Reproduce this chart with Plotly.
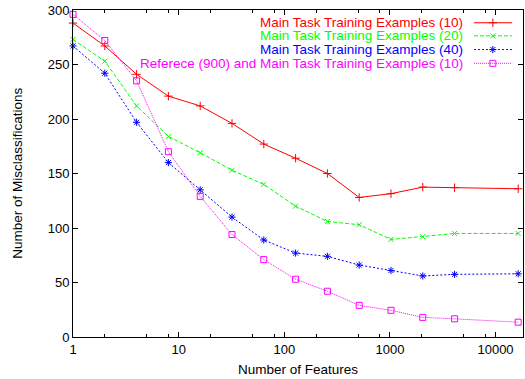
import math
import plotly.graph_objects as go

features = [1, 2, 4, 8, 16, 32, 64, 128, 256, 512, 1024, 2048, 4096, 16384]
main10 = [288, 267, 241, 221, 212, 196, 177, 164, 150, 128, 131.5, 137.5, 137, 136]
main20 = [273, 253, 212, 184, 169, 153, 140, 120, 106, 103, 89.5, 92, 95, 95]
main40 = [267, 242, 197, 160, 135, 110, 89, 77, 74, 66, 61, 56, 57.5, 58]
ref900_main10 = [296, 272, 235, 170, 129, 94, 71, 53, 42, 29, 24.5, 18, 16.7, 13.6]

names = [
    "Main Task Training Examples (10)",
    "Main Task Training Examples (20)",
    "Main Task Training Examples (40)",
    "Referece (900) and Main Task Training Examples (10)",
]
colors = ["#ff0000", "#00ff00", "#0000ff", "#ff00ff"]
dashes = ["solid", "4px,2px", "2px,2px", "1px,1px"]
symbols = ["cross-thin-open", "x-thin-open", "asterisk-open", "square-open"]
msizes = [6, 5, 6, 6]
series = [main10, main20, main40, ref900_main10]

y_ticks = [0, 50, 100, 150, 200, 250, 300]
x_ticks = [1, 10, 100, 1000, 10000]
x_tick_labels = ["1", "10", "100", "1000", "10000"]
minor_vals = [m * d for d in [1, 10, 100, 1000, 10000] for m in (2, 5, 8)]

FONT = "Liberation Sans, Arial, Helvetica, sans-serif"
FS = 13.5

fig = go.Figure()
for vals, name, c, d, s, ms in zip(series, names, colors, dashes, symbols, msizes):
    fig.add_trace(go.Scatter(
        x=features, y=vals, mode="lines+markers", name=name,
        line=dict(color=c, width=1, dash=d),
        marker=dict(symbol=s, size=ms, color=c, line=dict(color=c, width=1)),
        showlegend=False, cliponaxis=False,
    ))

# manual gnuplot-style legend (text right-aligned, sample to the right)
row_y = [0.961, 0.921, 0.879, 0.837]
for i, (name, c, d, s, ms) in enumerate(zip(names, colors, dashes, symbols, msizes)):
    fig.add_annotation(
        x=0.871, y=row_y[i], xref="paper", yref="paper", text=name,
        showarrow=False, xanchor="right", yanchor="middle",
        font=dict(color=c, size=FS, family=FONT),
    )
    fig.add_trace(go.Scatter(
        x=[0.891, 0.976], y=[row_y[i], row_y[i]], xaxis="x2", yaxis="y2",
        mode="lines", line=dict(color=c, width=1, dash=d),
        showlegend=False, hoverinfo="skip",
    ))
    fig.add_trace(go.Scatter(
        x=[0.933], y=[row_y[i]], xaxis="x2", yaxis="y2", mode="markers",
        marker=dict(symbol=s, size=ms, color=c, line=dict(color=c, width=1)),
        showlegend=False, hoverinfo="skip",
    ))

# axis titles
fig.add_annotation(x=0.5, y=-0.1, xref="paper", yref="paper",
                   text="Number of Features", showarrow=False,
                   xanchor="center", yanchor="middle",
                   font=dict(size=FS, family=FONT, color="black"))
fig.add_annotation(x=-0.124, y=0.5, xref="paper", yref="paper",
                   text="Number of Misclassifications", showarrow=False,
                   textangle=-90, xanchor="center", yanchor="middle",
                   font=dict(size=FS, family=FONT, color="black"))

fig.update_layout(
    width=525, height=379,
    margin=dict(l=73, r=2, t=10, b=42, autoexpand=False),
    paper_bgcolor="white", plot_bgcolor="white",
    font=dict(family=FONT, size=FS, color="black"),
    hovermode=False,
    xaxis=dict(
        type="log", range=[0, math.log10(18200)], automargin=False,
        tickvals=x_ticks, ticktext=x_tick_labels,
        ticks="inside", ticklen=5, tickcolor="black", tickwidth=1,
        showline=True, linecolor="black", linewidth=1, mirror="ticks",
        showgrid=False, zeroline=False,
        minor=dict(tickvals=minor_vals, ticks="inside", ticklen=3,
                   tickcolor="black", tickwidth=1, showgrid=False),
        tickfont=dict(size=13),
    ),
    yaxis=dict(
        range=[0, 300], tickvals=y_ticks, automargin=False,
        ticks="inside", ticklen=5, tickcolor="black", tickwidth=1,
        showline=True, linecolor="black", linewidth=1, mirror="ticks",
        showgrid=False, zeroline=False,
        tickfont=dict(size=13),
    ),
    xaxis2=dict(overlaying="x", range=[0, 1], visible=False, fixedrange=True),
    yaxis2=dict(overlaying="y", range=[0, 1], visible=False, fixedrange=True),
)

fig.write_html("out.html", config={"displayModeBar": False},
               post_script="document.body.style.margin='0';")
